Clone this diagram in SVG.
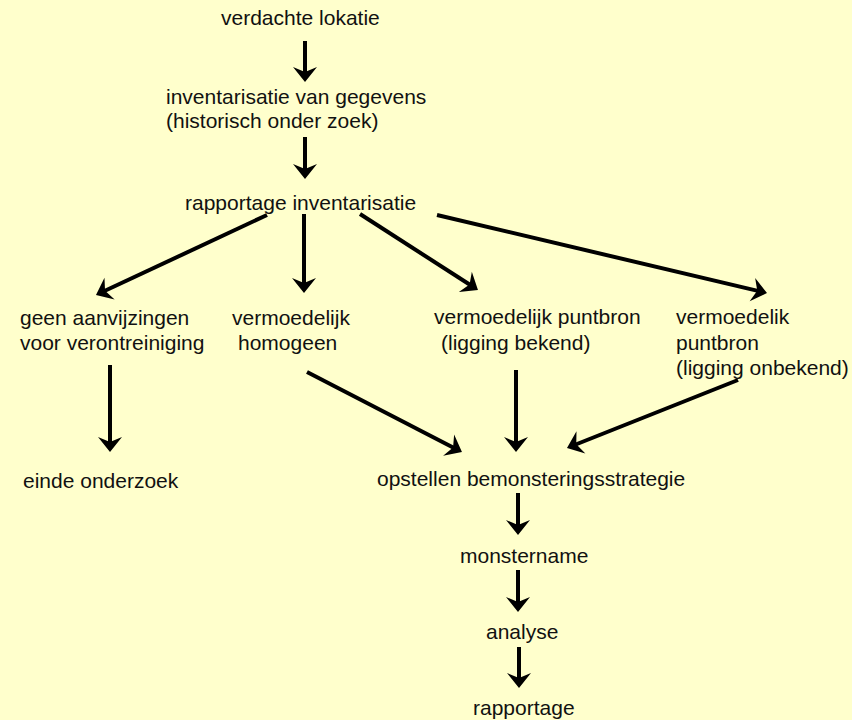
<svg xmlns="http://www.w3.org/2000/svg" width="852" height="720" viewBox="0 0 852 720">
<style>
text{font-family:"Liberation Sans",Arial,sans-serif;font-size:21px;fill:#111}
.c line{stroke:#000;stroke-width:4;marker-end:url(#ah)}
</style>
<defs>
<marker id="ah" markerUnits="userSpaceOnUse" viewBox="-12 -13 18 26" refX="0" refY="0" markerWidth="18" markerHeight="26" orient="auto">
<path d="M4,0 L-11,-12 L-6,0 L-11,12 Z" fill="#000"/>
</marker>
</defs>
<rect width="852" height="720" fill="#FFFFCC"/>
<g id="n1"><text x="221" y="25">verdachte lokatie</text></g>
<g id="n2"><text x="166" y="104">inventarisatie van gegevens</text><text x="166" y="128">(historisch onder zoek)</text></g>
<g id="n3"><text x="185" y="210">rapportage inventarisatie</text></g>
<g id="n4"><text x="20" y="325">geen aanvijzingen</text><text x="20" y="350">voor verontreiniging</text></g>
<g id="n5"><text x="232" y="325">vermoedelijk</text><text x="238" y="350">homogeen</text></g>
<g id="n6"><text x="434" y="324">vermoedelijk puntbron</text><text x="441" y="350">(ligging bekend)</text></g>
<g id="n7"><text x="676" y="324">vermoedelik</text><text x="676" y="350">puntbron</text><text x="676" y="375">(ligging onbekend)</text></g>
<g id="n8"><text x="23" y="488">einde onderzoek</text></g>
<g id="n9"><text x="377" y="486">opstellen bemonsteringsstrategie</text></g>
<g id="n10"><text x="460" y="563">monstername</text></g>
<g id="n11"><text x="486" y="639">analyse</text></g>
<g id="n12"><text x="473" y="715">rapportage</text></g>
<g id="connectors" class="c">
<line x1="305" y1="41" x2="305" y2="78"/>
<line x1="305" y1="137" x2="305" y2="175"/>
<line x1="267" y1="215" x2="99.6" y2="293.3"/>
<line x1="304" y1="214" x2="304" y2="289"/>
<line x1="360" y1="214" x2="474.6" y2="287.8"/>
<line x1="437" y1="215" x2="763.1" y2="292.1"/>
<line x1="110" y1="365" x2="110" y2="448"/>
<line x1="307" y1="372" x2="458.4" y2="450.2"/>
<line x1="516" y1="370" x2="516" y2="448"/>
<line x1="738" y1="380" x2="570.7" y2="446.5"/>
<line x1="518" y1="493" x2="518" y2="531"/>
<line x1="518" y1="570" x2="518" y2="608"/>
<line x1="519" y1="647" x2="519" y2="684"/>
</g>
</svg>
